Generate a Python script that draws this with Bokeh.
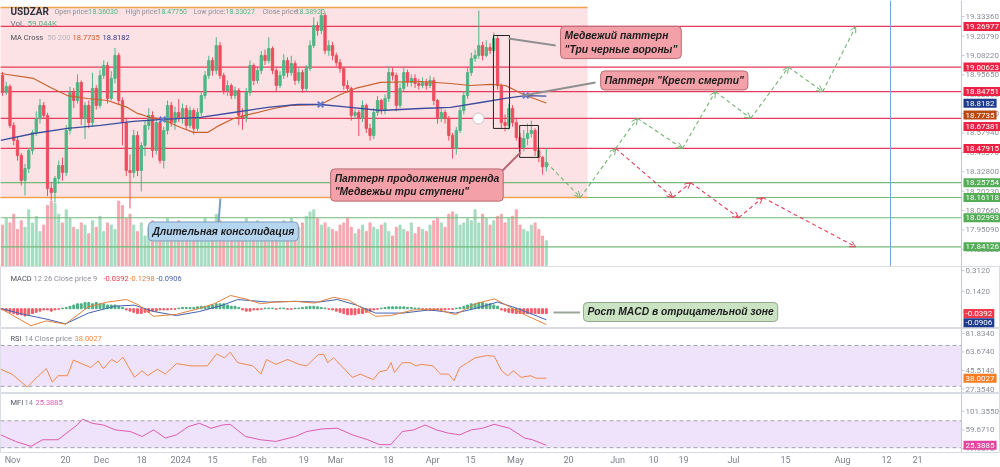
from bokeh.plotting import figure
from bokeh.layouts import column
from bokeh.models import (ColumnDataSource, Range1d, FixedTicker, Label, Arrow, OpenHead,
                          CustomJSTickFormatter)
from bokeh.core.properties import value
from bokeh.embed import file_html
from bokeh.resources import INLINE

# ---------------- data ----------------
first_open = 18.952
closes = [
18.842, 18.881, 18.628, 18.531, 18.434, 18.272, 18.349, 18.466, 18.583, 18.673,
18.758, 18.693, 18.220, 18.194, 18.285, 18.369, 18.323, 18.596, 18.842, 18.790,
18.907, 18.673, 18.758, 18.647, 18.868, 18.758, 18.952, 19.017, 18.803, 18.933,
19.082, 18.790, 18.647, 18.336, 18.323, 18.563, 18.336, 18.498, 18.628, 18.693,
18.466, 18.647, 18.401, 18.596, 18.758, 18.647, 18.712, 18.673, 18.738, 18.628,
18.725, 18.609, 18.712, 18.822, 18.952, 19.049, 18.984, 19.146, 18.952, 18.855,
18.887, 18.822, 18.855, 18.693, 18.673, 18.842, 19.017, 18.920, 18.984, 19.082,
19.049, 19.127, 18.984, 18.887, 18.952, 19.049, 18.971, 19.030, 18.920, 18.971,
18.868, 18.997, 19.146, 19.276, 19.244, 19.341, 19.114, 19.146, 19.082, 19.036,
18.997, 18.887, 18.868, 18.693, 18.712, 18.673, 18.758, 18.609, 18.563, 18.712,
18.790, 18.725, 18.803, 18.971, 18.952, 18.758, 18.868, 18.971, 18.907, 18.933,
18.900, 18.887, 18.907, 18.887, 18.920, 18.790, 18.673, 18.712, 18.673, 18.563,
18.479, 18.596, 18.725, 18.822, 18.971, 19.062, 19.082, 19.146, 19.082, 19.133,
19.114, 19.192, 18.887, 18.647, 18.628, 18.738, 18.647, 18.550, 18.485, 18.544,
18.576, 18.596, 18.466, 18.421, 18.360, 18.3892]
highs = [
18.975,18.910,18.895,18.650,18.560,18.450,18.380,18.480,18.600,18.720,
18.800,18.780,18.710,18.260,18.300,18.400,18.420,18.630,18.880,18.870,
18.960,18.920,18.780,18.790,18.970,18.890,18.990,19.050,19.040,18.980,
19.130,19.100,18.810,18.670,18.440,18.600,18.590,18.520,18.660,18.740,
18.720,18.680,18.660,18.620,18.790,18.780,18.750,18.800,18.770,18.760,
18.750,18.740,18.740,18.850,18.980,19.080,19.070,19.200,19.170,18.970,
18.920,18.900,18.880,18.870,18.740,18.870,19.050,19.030,19.010,19.110,
19.120,19.200,19.140,19.000,18.980,19.090,19.070,19.080,19.050,19.000,
18.990,19.020,19.180,19.330,19.300,19.380,19.360,19.180,19.170,19.100,
19.060,19.010,18.920,18.880,18.740,18.730,18.790,18.770,18.640,18.740,
18.820,18.800,18.830,19.010,19.000,18.970,18.900,19.010,18.990,18.960,
18.960,18.930,18.940,18.930,18.950,18.940,18.800,18.740,18.730,18.690,
18.580,18.620,18.750,18.850,19.000,19.100,19.120,19.373,19.170,19.180,
19.160,19.230,19.210,18.900,18.700,18.770,18.760,18.670,18.580,18.600,
18.640,18.660,18.610,18.480,18.430,18.4775]
lows = [
18.820,18.825,18.610,18.500,18.400,18.240,18.175,18.320,18.440,18.560,
18.640,18.670,18.170,18.142,18.130,18.250,18.270,18.300,18.570,18.740,
18.770,18.630,18.540,18.610,18.620,18.730,18.740,18.930,18.770,18.790,
18.900,18.760,18.500,18.300,18.090,18.290,18.300,18.200,18.430,18.600,
18.420,18.440,18.380,18.350,18.570,18.620,18.600,18.650,18.640,18.600,
18.610,18.570,18.590,18.690,18.800,18.930,18.950,18.960,18.930,18.830,
18.820,18.800,18.800,18.630,18.600,18.650,18.820,18.890,18.900,18.960,
19.020,19.030,18.960,18.850,18.870,18.930,18.940,18.950,18.890,18.900,
18.840,18.850,18.980,19.130,19.210,19.220,19.090,19.080,19.050,19.010,
18.970,18.860,18.840,18.660,18.670,18.560,18.650,18.580,18.530,18.540,
18.690,18.700,18.700,18.780,18.920,18.720,18.740,18.850,18.880,18.880,
18.870,18.860,18.870,18.860,18.870,18.760,18.640,18.650,18.640,18.530,
18.414,18.440,18.580,18.700,18.800,18.950,19.040,19.060,19.050,19.070,
19.090,19.100,18.860,18.610,18.590,18.600,18.620,18.530,18.440,18.460,
18.500,18.550,18.430,18.390,18.310,18.33027]
volumes_k = [
95,110,100,120,85,105,90,130,100,115,
80,95,140,150,145,120,100,130,110,90,
85,100,95,75,105,90,115,80,100,95,
85,150,140,110,120,95,80,100,70,90,
105,85,100,75,110,80,95,105,70,90,
85,100,75,95,110,80,90,120,105,95,
80,100,85,70,95,110,100,90,105,80,
95,85,100,70,90,105,85,110,95,90,
100,115,125,130,110,95,100,90,85,80,
95,100,110,90,75,85,95,80,100,90,
85,95,100,80,70,90,95,85,80,100,
75,90,85,80,95,105,110,100,90,120,
125,120,95,100,110,105,130,100,120,110,
95,105,115,120,100,110,115,130,95,85,
80,95,100,85,70,59]

ma50_idx = [-0.5, 8.3, 12.8, 17.3, 22.7, 28.0, 33.3, 36.0, 39.5, 42.7, 47.5, 50.9, 54.7, 57.3,
            61.6, 66.9, 72.3, 76.8, 84.8, 90.1, 94.1, 100.8, 111.5, 119.5, 124.8, 130.1, 134.1,
            136.8, 139.5, 145.0]
ma50_val = [18.965, 18.933, 18.874, 18.822, 18.803, 18.790, 18.745, 18.706, 18.680, 18.667, 18.615,
            18.583, 18.583, 18.622, 18.673, 18.706, 18.738, 18.758, 18.764, 18.829, 18.868, 18.907,
            18.913, 18.900, 18.887, 18.894, 18.887, 18.855, 18.822, 18.7735]
ma200_idx = [-0.5, 8.3, 17.3, 26.1, 34.9, 42.7, 52.8, 61.6, 70.7, 78.7, 84.8, 92.8, 100.8, 111.5,
             119.5, 127.5, 135.5, 139.5, 145.0]
ma200_val = [18.531, 18.576, 18.609, 18.628, 18.654, 18.667, 18.680, 18.712, 18.745, 18.764, 18.764,
             18.745, 18.725, 18.738, 18.745, 18.777, 18.809, 18.822, 18.8182]
cross_idx = [42.7, 84.8, 139.5]
cross_val = [18.667, 18.764, 18.822]
pivot_idx = [126.9]
pivot_val = [18.673]

macd_hist = [
-0.01,-0.02,-0.03,-0.04,-0.05,-0.05,-0.06,-0.05,-0.04,-0.03,-0.02,
-0.01,-0.01,-0.02,-0.01,-0.005,
0.005,0.01,0.02,0.03,0.04,0.04,0.05,0.05,0.04,0.05,0.04,0.04,0.03,0.03,0.03,0.02,0.01,
-0.01,-0.02,-0.03,-0.04,-0.04,-0.03,-0.03,-0.02,-0.02,-0.01,-0.01,-0.01,-0.005,-0.005,
0.005,0.01,0.01,0.01,0.01,0.015,0.02,0.02,0.025,0.03,
0.04,0.04,0.04,0.03,0.02,0.02,0.01,
-0.01,-0.02,-0.02,-0.01,-0.01,-0.005,0.005,0.005,
0.005,-0.005,0.005,0.005,-0.005,-0.005,0.005,0.005,0.01,0.015,0.02,0.02,0.015,0.01,0.005,-0.005,-0.01,-0.02,-0.03,
-0.04,-0.05,-0.05,-0.05,-0.04,-0.04,-0.03,-0.02,-0.01,-0.005,
0.005,0.01,0.015,0.015,0.015,0.015,0.015,0.01,0.01,0.005,0.005,-0.005,-0.01,-0.015,-0.015,-0.01,
-0.01,-0.01,-0.005,-0.005,0.005,0.01,
0.02,0.03,0.04,0.04,0.05,0.05,0.04,0.04,0.03,0.02,
-0.01,-0.02,-0.03,-0.035,-0.04,-0.04,-0.04,-0.04,-0.04,-0.04,-0.04,-0.04,-0.0392]
macd_idx = [-0.5, 7.6, 11.7, 16.8, 22.9, 28.0, 33.1, 36.3, 40.3, 46.4, 52.5, 56.5, 60.8, 64.8, 68.8,
            72.8, 78.1, 83.2, 88.3, 92.3, 96.5, 99.5, 103.5, 109.6, 115.7, 120.8, 126.1, 131.2, 135.2,
            139.2, 145.0]
macd_val = [0.002, -0.139, -0.100, -0.126, 0.015, 0.054, 0.075, 0.031, -0.062, -0.046, 0.002, 0.041,
            0.108, 0.080, 0.041, 0.054, 0.060, 0.046, 0.093, 0.070, -0.008, -0.062, -0.056, -0.010,
            -0.005, -0.049, 0.041, 0.080, 0.015, -0.049, -0.1298]
signal_idx = [-0.5, 5.6, 11.7, 16.8, 22.9, 30.1, 35.2, 40.3, 46.4, 52.5, 58.7, 62.7, 70.9, 78.1, 84.3,
              89.3, 94.4, 99.5, 106.7, 113.9, 120.8, 126.1, 132.0, 137.3, 145.0]
signal_val = [0.002, -0.046, -0.085, -0.124, -0.036, 0.021, 0.029, -0.023, -0.056, -0.023, 0.029, 0.075,
              0.054, 0.060, 0.054, 0.075, 0.029, -0.036, -0.036, -0.010, -0.036, 0.002, 0.054, 0.002,
              -0.0906]

rsi_idx = [-0.5, 2.5, 6.6, 9.6, 11.7, 13.3, 14.8, 17.3, 18.9, 23.5, 25.5, 26.9, 29.1, 30.6, 32.1, 35.2,
           37.2, 38.7, 41.3, 43.4, 46.4, 50.5, 54.6, 57.1, 59.2, 60.7, 62.7, 66.8, 68.9, 70.4, 72.9,
           76.0, 79.1, 81.1, 84.2, 85.7, 86.7, 88.3, 93.3, 95.4, 97.4, 98.9, 100.5, 102.5, 103.6, 104.5,
           106.6, 108.7, 110.2, 111.7, 114.8, 116.8, 118.9, 120.4, 121.9, 124.0, 126.0, 129.1, 131.1,
           133.1, 134.7, 136.2, 138.3, 140.8, 142.3, 145.0]
rsi_val = [46.8, 42.0, 29.3, 40.4, 47.4, 34.0, 40.4, 40.4, 55.7, 48.4, 54.8, 47.4, 56.3, 53.2, 58.6, 38.8,
           45.2, 40.4, 46.8, 42.0, 52.2, 50.0, 50.0, 61.8, 57.9, 63.4, 53.2, 50.0, 42.0, 56.3, 51.5,
           56.3, 51.5, 50.0, 61.1, 61.1, 53.2, 57.9, 38.8, 42.0, 38.8, 36.6, 44.3, 45.8, 53.2, 43.6,
           53.2, 53.2, 50.0, 51.5, 50.0, 42.0, 42.0, 35.6, 48.4, 53.2, 57.9, 60.1, 59.5,
           45.2, 40.4, 45.2, 38.8, 40.4, 37.9, 38.0027]
mfi_idx = [-0.5, 3.5, 7.6, 10.7, 14.8, 19.9, 21.4, 23.9, 26.9, 30.1, 34.1, 37.2, 40.3, 43.4, 46.4, 49.5,
           52.5, 55.6, 58.7, 60.7, 64.8, 68.8, 72.9, 78.1, 81.1, 85.2, 89.3, 93.3, 97.4, 100.5, 103.5,
           106.6, 109.6, 112.7, 115.7, 118.9, 121.9, 125.0, 128.0, 131.1, 135.2, 139.2, 141.3, 145.0]
mfi_val = [48.7, 34.0, 23.1, 37.7, 37.7, 70.6, 83.8, 74.4, 70.6, 59.7, 56.0, 45.0, 59.7, 41.5, 48.7, 66.9,
           74.4, 63.4, 70.6, 72.2, 45.0, 37.7, 34.0, 45.0, 56.0, 61.9, 63.4, 48.7, 37.7, 26.8, 26.8,
           56.0, 59.7, 70.6, 59.7, 52.4, 48.7, 59.7, 63.4, 72.2, 63.4, 41.5, 37.7, 25.3885]

red_levels = [19.26977, 19.00623, 18.84751, 18.67381, 18.47915]
green_levels = [18.25754, 18.16118, 18.02993, 17.84126]
cons_start, cons_end, cons_low, cons_high = -1.0, 156.0, 18.16118, 19.393
crows_box = (130.9, 135.2, 18.609, 19.211)
steps_box = (137.9, 142.9, 18.421, 18.628)
bull_idx = [145.0, 154.1, 163.5, 169.3, 181.3, 190.1, 199.5, 209.6, 218.7, 227.5]
bull_val = [18.389, 18.16118, 18.47915, 18.67381, 18.47915, 18.84751, 18.67381, 19.00623, 18.84751, 19.26977]
bear_idx = [163.5, 178.7, 183.5, 196.3, 202.7, 227.5]
bear_val = [18.47915, 18.16118, 18.25754, 18.02993, 18.16118, 17.84126]
date_marker_idx = 236.8

tick_idx = [2.7, 16.8, 26.4, 37.1, 47.5, 56.0, 68.5, 80.3, 88.8, 102.9, 114.7, 124.8, 136.8, 150.9,
            164.0, 173.6, 181.6, 194.9, 208.8, 224.0, 235.7, 244.0]
tick_lbl = ["Nov", "20", "Dec", "18", "2024", "15", "Feb", "19", "Mar", "18", "Apr", "15", "May", "20",
            "Jun", "10", "19", "Jul", "15", "Aug", "12", "21"]
main_ticks = [19.3336, 19.2079, 19.0822, 18.9565, 18.8308, 18.7051, 18.5794, 18.4537, 18.3280,
              18.2023, 18.0766, 17.9509, 17.8252]
macd_ticks = [0.312, 0.142, -0.028]
rsi_ticks = [81.834, 63.674, 45.514, 27.354]
mfi_ticks = [101.355, 59.671, 17.987]
last_ma50, last_ma200 = 18.7735, 18.8182
last_hist, last_macd, last_signal = -0.0392, -0.1298, -0.0906
last_rsi, last_mfi = 38.0027, 25.3885

# ---------------- style ----------------
FONT = "Roboto"
CFONT = "Liberation Sans"
AXC = "#8b8f98"
AXL = "#c6c9d0"
GREEN, RED = "#4fb584", "#ee4d5d"
VG, VR = "#a6dcc1", "#f6a8b0"
LRED, LGREEN = "#e8395c", "#74b978"
FW = 1000          # frame spans the whole width; price scale drawn at X_AX
AX_PX = 961
X_LO, X_AX = -0.53, 255.7
X_END = X_LO + (X_AX - X_LO) * FW / AX_PX
TICK = 3 * (X_END - X_LO) / FW
xr = Range1d(X_LO, X_END)


def make_fig(h, yr, xaxis=False, outline=True):
    f = figure(frame_width=FW, frame_height=h, x_range=xr, y_range=yr, output_backend="svg",
               toolbar_location=None, y_axis_location=None,
               x_axis_location="below" if xaxis else None,
               min_border_left=0, min_border_right=0, min_border_top=0, min_border_bottom=0)
    f.grid.visible = False
    f.outline_line_color = "#d9dce3" if outline else None
    return f


def price_scale(f, ticks, fmt):
    n = len(ticks)
    f.vspan(x=[X_AX], line_color=AXL, line_width=1)
    f.segment(x0=[X_AX] * n, x1=[X_AX + TICK] * n, y0=ticks, y1=ticks, line_color=AXL, line_width=1)
    f.text(x=[X_AX] * n, y=ticks, text=[fmt % t for t in ticks], x_offset=4, text_align="left",
           text_baseline="middle", text_font=value(FONT), text_font_size="8px", text_color=AXC)


def txt(f, px, py, s, color, size="7.5px", style="normal"):
    f.add_layout(Label(x=X_LO, y=f.y_range.end, x_offset=px, y_offset=-py, text=s, text_color=color,
                       text_font=FONT, text_font_size=size, text_font_style=style,
                       text_baseline="middle", text_align="left"))


def tag(f, y, s, bg, dy=0):
    f.add_layout(Label(x=X_AX, y=y, x_offset=2, y_offset=dy, text=s, text_color="white",
                       text_font=FONT, text_font_size="8px", text_align="left", text_baseline="middle",
                       background_fill_color=bg, padding=2))


def callout(f, x, y, s, fill, border):
    f.add_layout(Label(x=x, y=y, text=s, text_color="#1c1c1c", text_font=CFONT, text_font_size="10.3px",
                       text_font_style="bold italic", text_align="left", text_baseline="middle",
                       background_fill_color=fill, border_line_color=border, border_line_width=1,
                       padding=4, border_radius=4))


# ---------------- main pane ----------------
main = make_fig(266, Range1d(17.714, 19.438), outline=False)
main.extra_y_ranges = {"vol": Range1d(0, 610)}

opens = [first_open] + closes[:-1]
up = [c >= o for o, c in zip(opens, closes)]
src = ColumnDataSource(dict(i=list(range(len(closes))), o=opens, c=closes, h=highs, l=lows, v=volumes_k,
                            col=[GREEN if u else RED for u in up], vcol=[VG if u else VR for u in up]))

main.quad(left=[cons_start], right=[cons_end], bottom=[cons_low], top=[cons_high],
          fill_color="#fde2e5", line_color=None)
main.vbar(x="i", top="v", bottom=0, width=0.55, color="vcol", source=src, y_range_name="vol")
main.segment(x0=[X_LO] * len(red_levels), x1=[X_AX] * len(red_levels), y0=red_levels, y1=red_levels,
             line_color=LRED, line_width=1.2)
main.segment(x0=[X_LO] * len(green_levels), x1=[X_AX] * len(green_levels), y0=green_levels,
             y1=green_levels, line_color=LGREEN, line_width=1.2)
main.segment(x0=[cons_start, cons_start], x1=[cons_end, cons_end], y0=[cons_high, cons_low],
             y1=[cons_high, cons_low], line_color="#f1a24c", line_width=1.6)
main.segment(x0="i", x1="i", y0="l", y1="h", color="col", line_width=1, source=src)
main.vbar(x="i", top="c", bottom="o", width=0.6, fill_color="col", line_color="col", source=src)
main.line(ma50_idx, ma50_val, line_color="#c8622e", line_width=1.2)
main.line(ma200_idx, ma200_val, line_color="#3c4c9e", line_width=1.3)
main.scatter(cross_idx, cross_val, marker="x", size=8, line_color="#5d79d2", line_width=2)
main.scatter(pivot_idx, pivot_val, marker="circle", size=11, fill_color="white", line_color="#c4c4c4")
for b in (crows_box, steps_box):
    main.quad(left=[b[0]], right=[b[1]], bottom=[b[2]], top=[b[3]], fill_color=None,
              line_color="#222222", line_width=1)
main.vspan(x=[date_marker_idx], line_color="#79a2e2", line_width=1)

for path_i, path_v, col in ((bull_idx, bull_val, "#74b474"), (bear_idx, bear_val, "#e2405a")):
    s = ColumnDataSource(dict(x0=path_i[:-1], y0=path_v[:-1], x1=path_i[1:], y1=path_v[1:]))
    main.add_layout(Arrow(x_start="x0", y_start="y0", x_end="x1", y_end="y1", source=s,
                          line_color=col, line_width=1.1, line_dash="4 3",
                          end=OpenHead(size=6, line_color=col, line_width=1)))

main.segment(x0=[58.1, 138.1, 134.9, 138.9], y0=[18.155, 18.453, 19.192, 18.822],
             x1=[57.6, 132.0, 147.5, 158.1], y1=[17.999, 18.304, 19.146, 18.907],
             line_color=["#7c9cbc", "#b86a72", "#8f8f8f", "#8f8f8f"], line_width=2)
callout(main, 38.9, 17.941, "Длительная консолидация", "#b6d6f0", "#7d9cbc")
callout(main, 87.5, 18.242, "Паттерн продолжения тренда\n\"Медвежьи три ступени\"", "#f4a0a8", "#b86a72")
callout(main, 148.8, 19.166, "Медвежий паттерн\n\"Три черные вороны\"", "#f4a0a8", "#b86a72")
callout(main, 159.5, 18.920, "Паттерн \"Крест смерти\"", "#f4a0a8", "#b86a72")

price_scale(main, main_ticks, "%.5f")
for lv in red_levels:
    tag(main, lv, f"{lv:.5f}", "#eb2244", dy=(-8 if lv == 18.67381 else 0))
for lv in green_levels:
    tag(main, lv, f"{lv:.5f}", "#52ad56")
tag(main, last_ma200, f"{last_ma200:.4f}", "#1f3b8d", dy=-7)
tag(main, last_ma50, f"{last_ma50:.4f}", "#bb4711", dy=-12)

txt(main, 10, 11, "USDZAR", "#2e323c", size="10px", style="bold")
for px, s, c in ((54, "Open price:", AXC), (88, "18.36030", GREEN), (125, "High price:", AXC),
                 (157, "18.47750", GREEN), (193, "Low price:", AXC), (225, "18.33027", GREEN),
                 (262, "Close price:", AXC), (295, "18.38920", GREEN)):
    txt(main, px, 11, s, c, size="7px")
txt(main, 10, 23, "Vol.", "#6a6e78", size="8px")
txt(main, 27, 23, "59.044K", GREEN, size="8px")
txt(main, 10, 37, "MA Cross", "#4e525c", size="7.5px")
txt(main, 47, 37, "50 200", "#b3b6bd", size="7.5px")
txt(main, 72, 37, f"{last_ma50:.4f}", "#dd5a24", size="7.5px")
txt(main, 102, 37, f"{last_ma200:.4f}", "#2b3a8a", size="7.5px")

# ---------------- MACD pane ----------------
macd = make_fig(62, Range1d(-0.162, 0.345))
hsrc = ColumnDataSource(dict(i=list(range(len(macd_hist))), hv=macd_hist,
                             hc=["#4caf82" if v >= 0 else "#f25a67" for v in macd_hist]))
macd.vbar(x="i", top="hv", bottom=0, width=0.5, color="hc", source=hsrc)
macd.line(signal_idx, signal_val, line_color="#4562b0", line_width=1)
macd.line(macd_idx, macd_val, line_color="#e3823c", line_width=1)
macd.segment(x0=[146.9], y0=[-0.031], x1=[154.0], y1=[-0.031], line_color="#9aa79a", line_width=2)
callout(macd, 154.9, -0.027, "Рост MACD в отрицательной зоне", "#c9e3c3", "#8ea98a")
price_scale(macd, macd_ticks, "%.4f")
tag(macd, last_hist, f"{last_hist:.4f}", "#f0384c")
tag(macd, last_signal, f"{last_signal:.4f}", "#1f3b8d", dy=-3)
txt(macd, 10, 12, "MACD", "#4e525c")
txt(macd, 33, 12, "12 26 Close price 9", AXC)
txt(macd, 103, 12, f"{last_hist:.4f}", "#f0384c")
txt(macd, 129, 12, f"{last_macd:.4f}", "#e3823c")
txt(macd, 156, 12, f"{last_signal:.4f}", "#4562b0")

# ---------------- RSI pane ----------------
rsi = make_fig(65, Range1d(23.0, 86.6))
rsi.quad(left=[X_LO], right=[X_AX], bottom=[30], top=[70], fill_color="#efe2fb", line_color=None)
rsi.segment(x0=[X_LO, X_LO], x1=[X_AX, X_AX], y0=[70, 30], y1=[70, 30], line_color="#9ea1aa",
            line_dash="4 3", line_width=1)
rsi.line(rsi_idx, rsi_val, line_color="#ef8a4c", line_width=1)
price_scale(rsi, rsi_ticks, "%.4f")
tag(rsi, last_rsi, f"{last_rsi:.4f}", "#f47d24")
txt(rsi, 10, 10, "RSI", "#4e525c")
txt(rsi, 24, 10, "14 Close price", AXC)
txt(rsi, 74, 10, f"{last_rsi:.4f}", "#ef8a4c")

# ---------------- MFI pane ----------------
mfi = make_fig(59, Range1d(9.3, 140.85), xaxis=True)
mfi.quad(left=[X_LO], right=[X_AX], bottom=[20], top=[80], fill_color="#efe2fb", line_color=None)
mfi.segment(x0=[X_LO, X_LO], x1=[X_AX, X_AX], y0=[80, 20], y1=[80, 20], line_color="#9ea1aa",
            line_dash="4 3", line_width=1)
mfi.line(mfi_idx, mfi_val, line_color="#dd5cae", line_width=1)
price_scale(mfi, mfi_ticks, "%.4f")
tag(mfi, last_mfi, f"{last_mfi:.4f}", "#e2449e")
txt(mfi, 10, 9, "MFI", "#4e525c")
txt(mfi, 24, 9, "14", AXC)
txt(mfi, 35, 9, f"{last_mfi:.4f}", "#dd5cae")
xa = mfi.xaxis[0]
xa.ticker = FixedTicker(ticks=tick_idx)
xa.formatter = CustomJSTickFormatter(args=dict(labels=tick_lbl), code="return labels[index] || '';")
xa.axis_line_color = None
xa.major_tick_line_color = None
xa.major_tick_out = 0
xa.major_tick_in = 0
xa.minor_tick_line_color = None
xa.major_label_text_font = FONT
xa.major_label_text_font_size = "9px"
xa.major_label_text_color = "#7d818a"
xa.major_label_standoff = 2

layout = column(main, macd, rsi, mfi, spacing=0,
                styles={"position": "fixed", "left": "0px", "top": "0px"})
open("out.html", "w").write(file_html(layout, INLINE))
